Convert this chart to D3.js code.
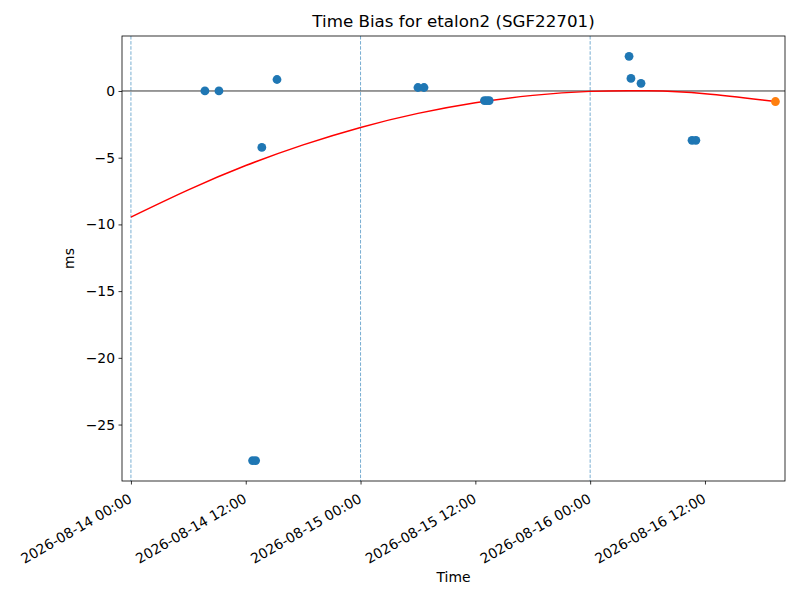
<!DOCTYPE html>
<html>
<head>
<meta charset="utf-8">
<script src="https://cdn.jsdelivr.net/npm/d3@7"></script>
<style>
  body { margin: 0; background: #fff; }
  svg { display: block; }
  svg text { font-family: "DejaVu Sans", sans-serif; }
</style>
</head>
<body>
<div id="chart"></div>
<script>
// observed time bias, one entry per pass
const obsTimes = [
    "2026-08-14 07:44", "2026-08-14 09:12", "2026-08-14 12:43", "2026-08-14 13:02",
    "2026-08-14 13:41", "2026-08-14 15:16", "2026-08-15 06:00", "2026-08-15 06:38",
    "2026-08-15 12:57", "2026-08-15 13:12", "2026-08-15 13:27", "2026-08-16 04:04",
    "2026-08-16 04:16", "2026-08-16 05:19", "2026-08-16 10:39", "2026-08-16 11:03"
];
const obsBias = [
    0.0, 0.0, -27.7, -27.7,
    -4.23, 0.86, 0.26, 0.26,
    -0.72, -0.72, -0.72, 2.6,
    0.94, 0.57, -3.7, -3.7
];

// predicted point (orange)
const predTime = ["2026-08-16 19:22"];
const predBias = [-0.79];

// fitted trend
const fitTimes = [
    "2026-08-14 00:00", "2026-08-14 06:00", "2026-08-14 12:00", "2026-08-14 18:00",
    "2026-08-15 00:00", "2026-08-15 06:00", "2026-08-15 12:00", "2026-08-15 18:00",
    "2026-08-16 00:00", "2026-08-16 06:00", "2026-08-16 12:00", "2026-08-16 18:00",
    "2026-08-16 19:22"
];
const fitBias = [-9.45, -7.41, -5.59, -4.04, -2.73, -1.68, -0.88, -0.33, -0.03, 0.01, -0.2, -0.67, -0.79];

// midnight markers
const dayLines = ["2026-08-14 00:00", "2026-08-15 00:00", "2026-08-16 00:00"];

const xLimits = ["2026-08-13 23:04", "2026-08-16 20:22"];
const yLimits = [-29.23, 4.12];
const yTicks = [0, -5, -10, -15, -20, -25];

const parse = d3.utcParse("%Y-%m-%d %H:%M");
const W = 800, H = 600;
const m = { top: 36, right: 15, bottom: 119, left: 122 };
const innerW = W - m.left - m.right;
const innerH = H - m.top - m.bottom;

const svg = d3.select("#chart").append("svg")
    .attr("width", W).attr("height", H)
    .attr("viewBox", `0 0 ${W} ${H}`);

const g = svg.append("g").attr("transform", `translate(${m.left},${m.top})`);

const x = d3.scaleUtc().domain(xLimits.map(parse)).range([0, innerW]);
const y = d3.scaleLinear().domain(yLimits).range([innerH, 0]);

const plot = g.append("g");
plot.append("clipPath").attr("id", "clip")
    .append("rect").attr("width", innerW).attr("height", innerH);
const inner = plot.append("g").attr("clip-path", "url(#clip)");

// day separators
inner.selectAll("line.day").data(dayLines).join("line")
    .attr("class", "day")
    .attr("x1", d => x(parse(d))).attr("x2", d => x(parse(d)))
    .attr("y1", 0).attr("y2", innerH)
    .attr("stroke", "#1f77b4").attr("stroke-width", 0.6)
    .attr("stroke-dasharray", "3.5,1.6");

// zero line
inner.append("line")
    .attr("x1", 0).attr("x2", innerW)
    .attr("y1", y(0)).attr("y2", y(0))
    .attr("stroke", "#000").attr("stroke-width", 0.8);

// trend curve
const fit = fitTimes.map((t, i) => ({ t: parse(t), v: fitBias[i] }));
inner.append("path").datum(fit)
    .attr("fill", "none").attr("stroke", "#ff0000").attr("stroke-width", 1.5)
    .attr("d", d3.line().x(d => x(d.t)).y(d => y(d.v)).curve(d3.curveNatural));

// observations
const obs = obsTimes.map((t, i) => ({ t: parse(t), v: obsBias[i] }));
inner.selectAll("circle.obs").data(obs).join("circle")
    .attr("class", "obs")
    .attr("cx", d => x(d.t)).attr("cy", d => y(d.v)).attr("r", 4.4)
    .attr("fill", "#1f77b4");

const pred = predTime.map((t, i) => ({ t: parse(t), v: predBias[i] }));
inner.selectAll("circle.pred").data(pred).join("circle")
    .attr("class", "pred")
    .attr("cx", d => x(d.t)).attr("cy", d => y(d.v)).attr("r", 4.4)
    .attr("fill", "#ff7f0e");

// axes
const fmt = d3.utcFormat("%Y-%m-%d %H:%M");
const xAxis = g.append("g").attr("transform", `translate(0,${innerH})`)
    .call(d3.axisBottom(x).ticks(d3.utcHour.every(12)).tickFormat(fmt)
        .tickSizeInner(3.5).tickSizeOuter(0).tickPadding(3.5));
xAxis.attr("font-family", null).attr("font-size", null);
xAxis.select(".domain").remove();
xAxis.selectAll(".tick line").attr("stroke-width", 0.8);
xAxis.selectAll(".tick text")
    .attr("font-size", 13.9).attr("fill", "#000")
    .attr("text-anchor", "end")
    .attr("dy", null).attr("y", null)
    .attr("transform", "translate(1.5,20.5) rotate(-30)");

const yAxis = g.append("g")
    .call(d3.axisLeft(y).tickValues(yTicks).tickFormat(d => d3.format("d")(d).replace("-", "\u2212"))
        .tickSizeInner(3.5).tickSizeOuter(0).tickPadding(3.5));
yAxis.attr("font-family", null).attr("font-size", null);
yAxis.select(".domain").remove();
yAxis.selectAll(".tick line").attr("stroke-width", 0.8);
yAxis.selectAll(".tick text").attr("font-size", 13.9).attr("fill", "#000");

// frame
g.append("rect").attr("width", innerW).attr("height", innerH)
    .attr("fill", "none").attr("stroke", "#000").attr("stroke-width", 0.8);

// labels
svg.append("text").attr("x", m.left + innerW / 2).attr("y", 27)
    .attr("text-anchor", "middle").attr("font-size", 16.7)
    .text("Time Bias for etalon2 (SGF22701)");
svg.append("text").attr("x", m.left + innerW / 2).attr("y", 582)
    .attr("text-anchor", "middle").attr("font-size", 13.9)
    .text("Time");
svg.append("text")
    .attr("transform", `translate(74,${m.top + innerH / 2}) rotate(-90)`)
    .attr("text-anchor", "middle").attr("font-size", 13.9)
    .text("ms");
</script>
</body>
</html>
